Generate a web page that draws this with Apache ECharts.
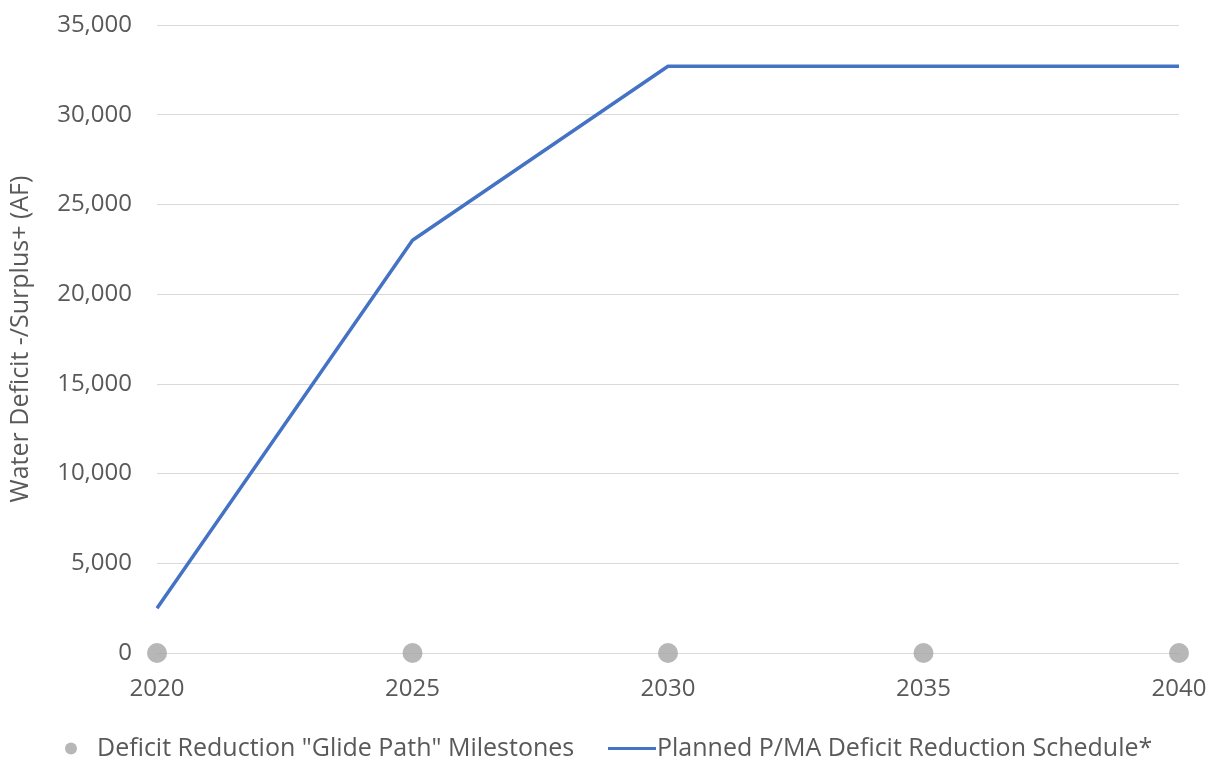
<!DOCTYPE html>
<html>
<head>
<meta charset="utf-8">
<script src="https://cdn.jsdelivr.net/npm/echarts@6/dist/echarts.min.js"></script>
<style>
html,body{margin:0;padding:0;background:#fff;}
#c{width:1211px;height:759px;}
</style>
</head>
<body>
<div id="c"></div>
<script>
const years = [2020, 2025, 2030, 2035, 2040];
const milestoneValues = [0, 0, 0, 0, 0];
const scheduleValues = [2500, 23000, 32700, 32700, 32700];
const milestoneName = 'Deficit Reduction "Glide Path" Milestones';
const scheduleName = 'Planned P/MA Deficit Reduction Schedule*';
const yAxisName = 'Water Deficit -/Surplus+ (AF)';

const FONT = '"Open Sans", "Noto Sans", sans-serif';
const TXT = '#595959';
const FS = 24;

const chart = echarts.init(document.getElementById('c'), null, {renderer: 'canvas'});
chart.setOption({
  animation: false,
  backgroundColor: '#ffffff',
  textStyle: {fontFamily: FONT},
  grid: {left: 152, right: 32, top: 25, bottom: 106, containLabel: false},
  legend: [
    {
      data: [{name: milestoneName, icon: 'circle'}],
      left: 60, top: 731,
      itemWidth: 12, itemHeight: 12, itemGap: 10,
      textStyle: {color: TXT, fontSize: 25, fontFamily: FONT, padding: [0, 0, 0, 15]}
    },
    {
      data: [{name: scheduleName, icon: 'rect'}],
      left: 603, top: 731,
      itemWidth: 48, itemHeight: 3,
      textStyle: {color: TXT, fontSize: 25, fontFamily: FONT, padding: [0, 0, 0, -4]}
    }
  ],
  xAxis: {
    type: 'value',
    min: 2020, max: 2040, interval: 5,
    axisLine: {show: true, lineStyle: {color: '#D9D9D9', width: 1}},
    axisTick: {show: false},
    splitLine: {show: false},
    axisLabel: {color: TXT, fontSize: FS, margin: 24, fontFamily: FONT, formatter: v => String(v)}
  },
  yAxis: {
    type: 'value',
    min: 0, max: 35000, interval: 5000,
    name: yAxisName,
    nameLocation: 'middle',
    nameGap: 124,
    nameRotate: 90,
    nameTextStyle: {color: TXT, fontSize: 25, fontFamily: FONT},
    axisLine: {show: false},
    axisTick: {show: false},
    splitLine: {lineStyle: {color: '#D9D9D9', width: 1}},
    axisLabel: {
      color: TXT, fontSize: FS, margin: 25, fontFamily: FONT,
      formatter: v => v.toLocaleString('en-US')
    }
  },
  series: [
    {
      name: milestoneName,
      type: 'scatter',
      data: years.map((y, i) => [y, milestoneValues[i]]),
      symbol: 'circle',
      symbolSize: 20,
      clip: false,
      itemStyle: {color: '#A5A5A5'},
      z: 3
    },
    {
      name: scheduleName,
      type: 'line',
      data: years.map((y, i) => [y, scheduleValues[i]]),
      showSymbol: false,
      symbol: 'none',
      lineStyle: {color: '#4472C4', width: 3.5},
      itemStyle: {color: '#4472C4'},
      z: 2
    }
  ]
});
</script>
</body>
</html>
